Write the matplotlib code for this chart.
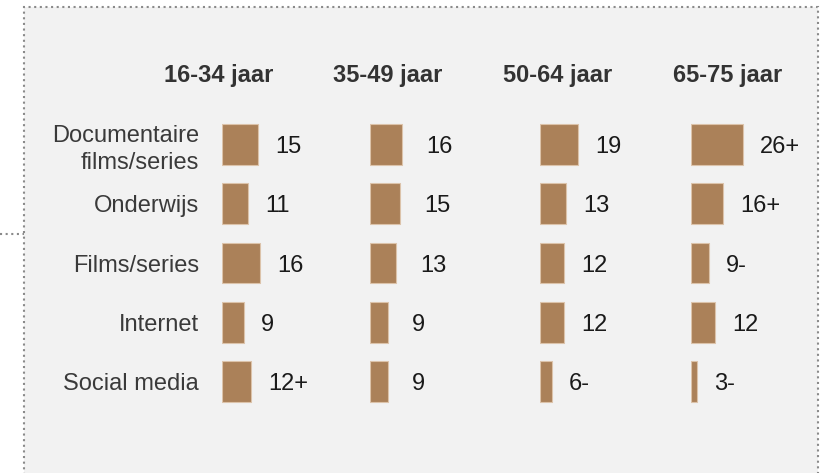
import matplotlib
matplotlib.use("Agg")
import matplotlib.pyplot as plt
from matplotlib.patches import Rectangle
from matplotlib.lines import Line2D

plt.rcParams["font.family"] = ["Liberation Sans", "DejaVu Sans"]

categories = ["Documentaire\nfilms/series", "Onderwijs", "Films/series", "Internet", "Social media"]
groups = ["16-34 jaar", "35-49 jaar", "50-64 jaar", "65-75 jaar"]

vals_16_34 = [15, 11, 16, 9, 12]
vals_35_49 = [16, 15, 13, 9, 9]
vals_50_64 = [19, 13, 12, 12, 6]
vals_65_75 = [26, 16, 9, 12, 3]

labels_16_34 = ["15", "11", "16", "9", "12+"]
labels_35_49 = ["16", "15", "13", "9", "9"]
labels_50_64 = ["19", "13", "12", "12", "6-"]
labels_65_75 = ["26+", "16+", "9-", "12", "3-"]

W, H = 825, 473
fig = plt.figure(figsize=(W / 100, H / 100), dpi=100)


def fx(x):
    return x / W


def fy(y):
    return 1 - y / H


# dotted grey panel (drawn behind the axes)
box = Rectangle((fx(23.5), fy(490)), fx(818) - fx(23.5), fy(6.5) - fy(490),
                transform=fig.transFigure, facecolor="#f2f2f2", edgecolor="#8a8a8a",
                linewidth=1.5, linestyle=(0, (1, 1.7)), zorder=-10)
fig.patches.append(box)
fig.lines.append(Line2D([fx(0), fx(23.5)], [fy(234), fy(234)], transform=fig.transFigure,
                        color="#8a8a8a", linewidth=1.5, linestyle=(0, (1, 1.7)), zorder=-10))

bar_color = "#ab8159"
edge_color = "#dcc3aa"

panels = [
    (vals_16_34, labels_16_34, 222, 2.4, 17, 219),
    (vals_35_49, labels_35_49, 370, 2.0, 24, 388),
    (vals_50_64, labels_50_64, 540, 2.0, 17, 558),
    (vals_65_75, labels_65_75, 691, 2.0, 17, 728),
]

top, bottom, width = 115, 411, 140
for i, (vals, labs, x0, scale, gap, tx) in enumerate(panels):
    ax = fig.add_axes([fx(x0), fy(bottom), width / W, (bottom - top) / H])
    ax.set_facecolor("none")
    ax.barh(range(len(categories)), vals, height=0.69, color=bar_color,
            edgecolor=edge_color, linewidth=0.8)
    for k, (v, lab) in enumerate(zip(vals, labs)):
        ax.annotate(lab, (v, k), xytext=(gap * 0.72, -1.8), textcoords="offset points",
                    va="center", ha="left", fontsize=17, color="#1a1a1a")
    ax.set_xlim(0, width / scale)
    ax.set_ylim(len(categories) - 0.5, -0.5)
    ax.set_xticks([])
    if i == 0:
        ax.set_yticks(range(len(categories)), categories)
        ax.tick_params(axis="y", length=0, pad=16.5, labelsize=17, labelcolor="#3a3a3a")
        for t in ax.get_yticklabels():
            t.set_linespacing(1.3)
    else:
        ax.set_yticks([])
    for s in ax.spines.values():
        s.set_visible(False)
    fig.text(fx(tx), fy(82), groups[i], ha="center", va="baseline", fontsize=17,
             fontweight="bold", color="#333333")

fig.savefig("out.png", dpi=100, facecolor="white")
